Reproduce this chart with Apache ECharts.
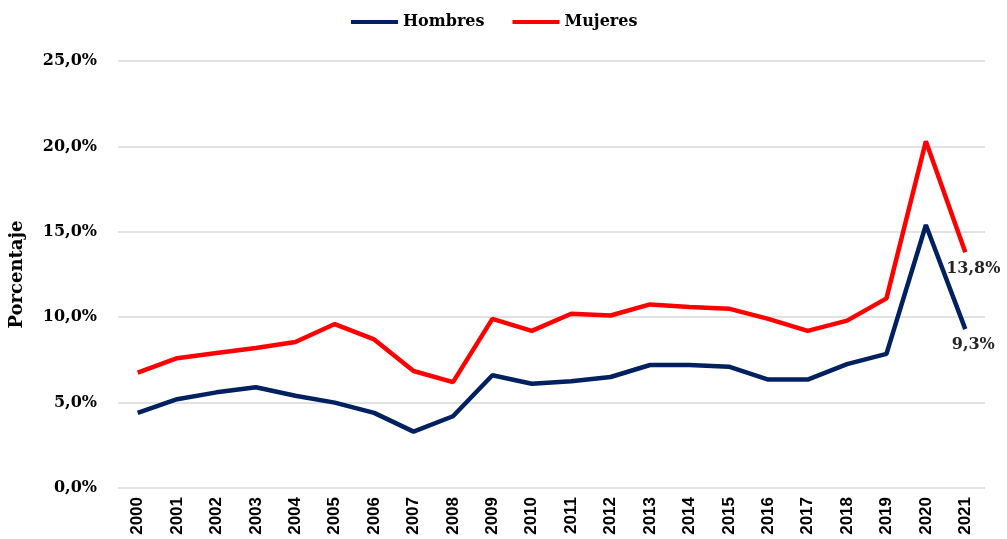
<!DOCTYPE html>
<html>
<head>
<meta charset="utf-8">
<script src="https://cdn.jsdelivr.net/npm/echarts@6/dist/echarts.min.js"></script>
<style>
  html, body { margin: 0; padding: 0; background: #fff; }
  #chart { width: 1007px; height: 539px; }
</style>
</head>
<body>
<div id="chart"></div>
<script>
// datos
var years = ["2000", "2001", "2002", "2003", "2004", "2005", "2006", "2007", "2008", "2009", "2010",
  "2011", "2012", "2013", "2014", "2015", "2016", "2017", "2018", "2019", "2020", "2021"];
var hombres = [4.4, 5.2, 5.6, 5.9, 5.4, 5.0, 4.4, 3.3, 4.2, 6.6, 6.1,
  6.25, 6.5, 7.2, 7.2, 7.1, 6.35, 6.35, 7.25, 7.85, 15.4, 9.3];
var mujeres = [6.75, 7.6, 7.9, 8.2, 8.55, 9.6, 8.7, 6.85, 6.2, 9.9, 9.2,
  10.2, 10.1, 10.75, 10.6, 10.5, 9.9, 9.2, 9.8, 11.1, 20.3, 13.8];

var serif = "DejaVu Serif";

function fmt(v) {
  return v.toFixed(1).replace(".", ",") + "%";
}

// etiqueta solo en el ultimo punto
function lastLabel(arr) {
  return arr.map(function (v, i) {
    if (i < arr.length - 1) return v;
    return {
      value: v,
      label: {
        show: true,
        position: "bottom",
        distance: 4,
        offset: [8, 4],
        formatter: function (p) { return fmt(p.value); },
        fontFamily: serif,
        fontWeight: "bold",
        fontSize: 16,
        color: "#262626"
      }
    };
  });
}

var myChart = echarts.init(document.getElementById("chart"));
var option = {
  animation: false,
  legend: {
    top: 9,
    left: 346,
    itemGap: 28,
    itemWidth: 47,
    itemHeight: 4,
    icon: "rect",
    textStyle: { fontFamily: serif, fontWeight: "bold", fontSize: 16, color: "#000" },
    data: ["Hombres", "Mujeres"]
  },
  grid: { left: 118, right: 22, top: 61, bottom: 51 },
  xAxis: {
    type: "category",
    data: years,
    boundaryGap: true,
    axisLine: { show: false },
    axisTick: { show: false },
    axisLabel: {
      rotate: 90,
      margin: 9,
      fontFamily: "Liberation Sans",
      fontWeight: "bold",
      fontSize: 17,
      color: "#000"
    }
  },
  yAxis: {
    type: "value",
    min: 0,
    max: 25,
    interval: 5,
    name: "Porcentaje",
    nameLocation: "middle",
    nameGap: 92,
    nameTextStyle: { fontFamily: serif, fontWeight: "bold", fontSize: 18, color: "#000" },
    axisLine: { show: false },
    axisTick: { show: false },
    splitLine: { lineStyle: { color: "#d9d9d9", width: 1.5 } },
    axisLabel: {
      margin: 21,
      fontFamily: serif,
      fontWeight: "bold",
      fontSize: 16,
      color: "#000",
      formatter: function (v) { return fmt(v); }
    }
  },
  series: [
    {
      name: "Hombres",
      type: "line",
      data: lastLabel(hombres),
      symbol: "circle",
      symbolSize: 0.1,
      showSymbol: true,
      color: "#002060",
      lineStyle: { width: 4.5, color: "#002060" }
    },
    {
      name: "Mujeres",
      type: "line",
      data: lastLabel(mujeres),
      symbol: "circle",
      symbolSize: 0.1,
      showSymbol: true,
      color: "#ff0000",
      lineStyle: { width: 4.5, color: "#ff0000" }
    }
  ]
};
option && myChart.setOption(option);
</script>
</body>
</html>
